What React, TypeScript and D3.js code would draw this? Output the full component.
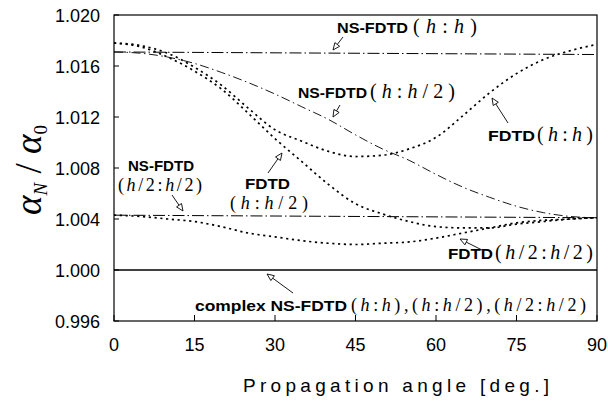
import React from 'react';
import * as d3 from 'd3';

const angles = [0, 5, 10, 15, 20, 25, 30, 35, 40, 45, 50, 55, 60, 65, 70, 75, 80, 85, 90];
const fdtdHH = [1.0178, 1.0176, 1.0170, 1.0159, 1.0145, 1.0127, 1.0110, 1.0101, 1.0093, 1.0089, 1.0090, 1.0095, 1.0104, 1.0121, 1.0139, 1.0154, 1.0165, 1.0172, 1.0177];
const fdtdHH2 = [1.0178, 1.0175, 1.0167, 1.0156, 1.0142, 1.0123, 1.0103, 1.0085, 1.0067, 1.0052, 1.0044, 1.0038, 1.0034, 1.0033, 1.0033, 1.0036, 1.0038, 1.0040, 1.0041];
const fdtdH2H2 = [1.0043, 1.0042, 1.0040, 1.0038, 1.0034, 1.0029, 1.0026, 1.0023, 1.0021, 1.0020, 1.0021, 1.0022, 1.0025, 1.0029, 1.0033, 1.0037, 1.0039, 1.0040, 1.0041];
const nsHH2 = [1.0171, 1.0170, 1.0167, 1.0162, 1.0155, 1.0147, 1.0138, 1.0128, 1.0118, 1.0106, 1.0095, 1.0086, 1.0075, 1.0065, 1.0057, 1.0050, 1.0045, 1.0042, 1.0041];
const flatAngles = [0, 90];
const nsHH = [1.0171, 1.0169];
const nsH2H2 = [1.0043, 1.0041];
const complexNS = [1.0, 1.0];
const xTicks = [0, 15, 30, 45, 60, 75, 90];
const yTicks = [0.996, 1.0, 1.004, 1.008, 1.012, 1.016, 1.02];

const W = 608, H = 401;
const x = d3.scaleLinear().domain([0, 90]).range([114, 597]);
const y = d3.scaleLinear().domain([0.996, 1.02]).range([321, 15]);

const line = d3.line<[number, number]>()
  .x(d => x(d[0]))
  .y(d => y(d[1]))
  .curve(d3.curveMonotoneX);

const zip = (a: number[], b: number[]) => a.map((v, i) => [v, b[i]] as [number, number]);

const SANS = '"Liberation Sans", Arial, sans-serif';
const SERIF = '"Liberation Serif", "Times New Roman", serif';

function serifParts(s: string) {
  return s.split('').map((c, i) =>
    c === 'h' ? <tspan key={i} fontStyle="italic">h</tspan> : <tspan key={i}>{c}</tspan>
  );
}

type Part = { t: string; x: number; w: number; serif?: boolean; size?: number };

function Label({ y0, parts }: { y0: number; parts: Part[] }) {
  return (
    <g>
      {parts.map((p, i) =>
        p.serif ? (
          <text key={i} x={p.x} y={y0} fontFamily={SERIF} fontSize={p.size ?? 20}
            textLength={p.w} lengthAdjust="spacing">{serifParts(p.t)}</text>
        ) : (
          <text key={i} x={p.x} y={y0} fontFamily={SANS} fontWeight="bold" fontSize={p.size ?? 15}
            textLength={p.w} lengthAdjust="spacingAndGlyphs">{p.t}</text>
        )
      )}
    </g>
  );
}

function Arrow({ x1, y1, x2, y2 }: { x1: number; y1: number; x2: number; y2: number }) {
  const ang = Math.atan2(y2 - y1, x2 - x1);
  const L = 7, Wd = 3;
  const bx = x2 - L * Math.cos(ang), by = y2 - L * Math.sin(ang);
  const px = -Math.sin(ang) * Wd, py = Math.cos(ang) * Wd;
  return (
    <g>
      <line x1={x1} y1={y1} x2={bx} y2={by} stroke="#000" strokeWidth={0.9} />
      <path d={`M${x2},${y2}L${bx + px},${by + py}L${bx - px},${by - py}Z`} fill="#fff" stroke="#000" strokeWidth={0.9} />
    </g>
  );
}

export default function App() {
  const dotted = { fill: 'none', stroke: '#000', strokeWidth: 1.7, strokeDasharray: '2.2 3.6' };
  return (
    <svg width={W} height={H} style={{ position: 'absolute', left: 0, top: 0, background: '#fff' }}>
      <rect x={0} y={0} width={W} height={H} fill="#fff" />
      {/* curves */}
      <path d={line(zip(flatAngles, complexNS)) ?? ''} fill="none" stroke="#000" strokeWidth={1.3} />
      <path d={line(zip(flatAngles, nsHH)) ?? ''} fill="none" stroke="#000" strokeWidth={1} strokeDasharray="12 3 1.5 3" />
      <path d={line(zip(flatAngles, nsH2H2)) ?? ''} fill="none" stroke="#000" strokeWidth={1} strokeDasharray="12 3 1.5 3" />
      <path d={line(zip(angles, nsHH2)) ?? ''} fill="none" stroke="#000" strokeWidth={0.9} strokeDasharray="9 3.5 1.5 3.5" />
      <path d={line(zip(angles, fdtdHH)) ?? ''} {...dotted} />
      <path d={line(zip(angles, fdtdHH2)) ?? ''} {...dotted} />
      <path d={line(zip(angles, fdtdH2H2)) ?? ''} {...dotted} />

      {/* frame */}
      <rect x={x(0)} y={y(1.02)} width={x(90) - x(0)} height={y(0.996) - y(1.02)} fill="none" stroke="#000" strokeWidth={1.2} />
      {yTicks.map(t => (
        <g key={'y' + t}>
          <line x1={x(0)} x2={x(0) + 5} y1={y(t)} y2={y(t)} stroke="#000" strokeWidth={1} />
          <text x={100} y={y(t) + 6.5} textAnchor="end" fontFamily={SANS} fontSize={18}>{t.toFixed(3)}</text>
        </g>
      ))}
      {xTicks.map(t => (
        <g key={'x' + t}>
          <line x1={x(t)} x2={x(t)} y1={y(0.996)} y2={y(0.996) - 6} stroke="#000" strokeWidth={1} />
          <text x={x(t)} y={351} textAnchor="middle" fontFamily={SANS} fontSize={18}>{t}</text>
        </g>
      ))}
      <text x={243} y={392} fontFamily={SANS} fontSize={19} textLength={306} lengthAdjust="spacing">Propagation angle [deg.]</text>
      <text transform="translate(41,170) rotate(-90)" textAnchor="middle" fontFamily={SERIF} fontSize={37} fontStyle="italic">
        α<tspan fontSize={19} dy={6}>N</tspan><tspan dy={-6} fontStyle="normal"> / </tspan>α<tspan fontSize={19} dy={6} fontStyle="normal">0</tspan>
      </text>

      {/* annotations */}
      <Label y0={33} parts={[{ t: 'NS-FDTD', x: 337, w: 71 }, { t: '(h:h)', x: 413, w: 64, serif: true }]} />
      <Arrow x1={343} y1={37} x2={333} y2={50} />
      <Label y0={98} parts={[{ t: 'NS-FDTD', x: 298, w: 69 }, { t: '(h:h/2)', x: 370, w: 85, serif: true }]} />
      <Arrow x1={340} y1={105} x2={333} y2={117} />
      <Label y0={141} parts={[{ t: 'FDTD', x: 488, w: 47 }, { t: '(h:h)', x: 537, w: 56, serif: true }]} />
      <Arrow x1={508} y1={123} x2={492} y2={98} />
      <Label y0={171} parts={[{ t: 'NS-FDTD', x: 128, w: 66 }]} />
      <Label y0={191} parts={[{ t: '(h/2:h/2)', x: 118, w: 84, serif: true, size: 18 }]} />
      <Arrow x1={172} y1={195} x2={183} y2={211} />
      <Label y0={189} parts={[{ t: 'FDTD', x: 245, w: 45 }]} />
      <Label y0={209} parts={[{ t: '(h:h/2)', x: 230, w: 78, serif: true, size: 18 }]} />
      <Arrow x1={268} y1={173} x2={282} y2={153} />
      <Label y0={259} parts={[{ t: 'FDTD', x: 448, w: 45 }, { t: '(h/2:h/2)', x: 495, w: 98, serif: true }]} />
      <Arrow x1={482} y1={250} x2={460} y2={239} />
      <Label y0={311} parts={[
        { t: 'complex NS-FDTD', x: 195, w: 152, size: 14 },
        { t: '(h:h),(h:h/2),(h/2:h/2)', x: 351, w: 235, serif: true, size: 18 },
      ]} />
      <Arrow x1={293} y1={293} x2={267} y2={274} />
    </svg>
  );
}
